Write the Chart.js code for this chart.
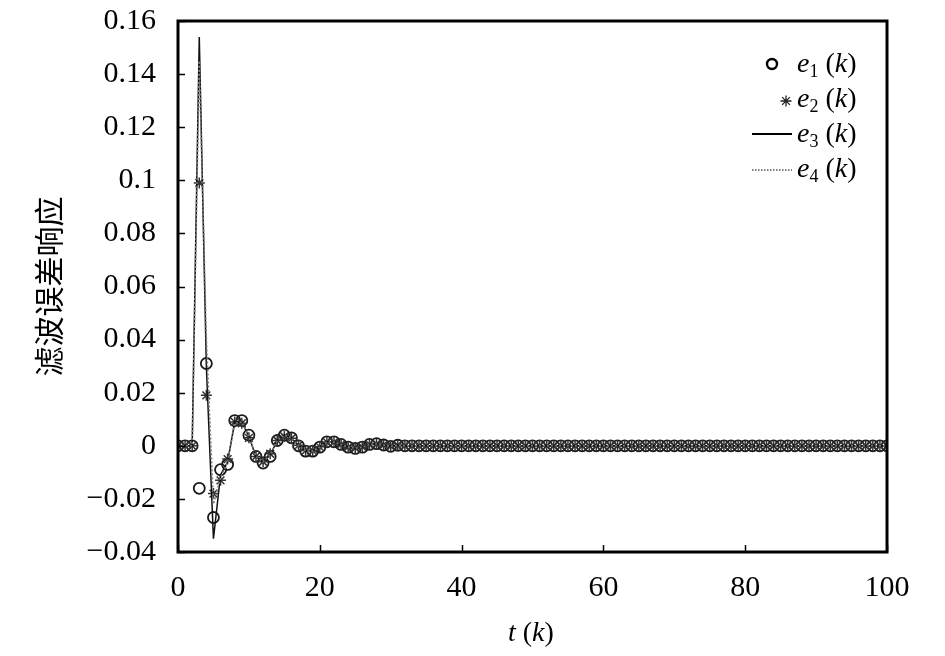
<!DOCTYPE html>
<html><head><meta charset="utf-8">
<script src="https://cdn.jsdelivr.net/npm/chart.js@4/dist/chart.umd.min.js"></script>
<style>
html,body{margin:0;padding:0;background:#fff;}
#wrap{position:relative;width:945px;height:656px;overflow:hidden;}
canvas{position:absolute;left:0;top:0;}
.leg{position:absolute;font-family:"Liberation Serif","Times New Roman",serif;font-size:28px;color:#000;line-height:28px;white-space:nowrap;}
.leg sub{font-size:18px;font-style:normal;vertical-align:-5px;line-height:0;}
</style></head>
<body><div id="wrap"><canvas id="c" width="945" height="656"></canvas>
<div class="leg" style="left:797px;top:49px"><i>e</i><sub>1</sub> (<i>k</i>)</div>
<div class="leg" style="left:797px;top:84px"><i>e</i><sub>2</sub> (<i>k</i>)</div>
<div class="leg" style="left:797px;top:119px"><i>e</i><sub>3</sub> (<i>k</i>)</div>
<div class="leg" style="left:797px;top:154px"><i>e</i><sub>4</sub> (<i>k</i>)</div>
<div class="leg" style="left:508px;top:618px"><i>t</i> (<i>k</i>)</div>
</div>
<script>
// k = 0..100
const kValues = Array.from({length: 101}, (_, i) => i);
const e1 = [0,0,0,-0.016,0.031,-0.027,-0.009,-0.007,0.0095,0.0095,0.004,-0.004,-0.0065,-0.004,0.002,0.004,0.003,0,-0.002,-0.002,-0.0005,0.0015,0.0015,0.0005,-0.0005,-0.001,-0.0005,0.0005,0.0008,0.0003,-0.0002,0.0002,0,0,0,0,0,0,0,0,0,0,0,0,0,0,0,0,0,0,0,0,0,0,0,0,0,0,0,0,0,0,0,0,0,0,0,0,0,0,0,0,0,0,0,0,0,0,0,0,0,0,0,0,0,0,0,0,0,0,0,0,0,0,0,0,0,0,0,0,0];
const e2 = [0,0,0,0.099,0.019,-0.018,-0.013,-0.005,0.009,0.0085,0.003,-0.004,-0.006,-0.003,0.002,0.0035,0.0028,0.0002,-0.0018,-0.0018,-0.0004,0.0014,0.0014,0.0005,-0.0005,-0.0009,-0.0004,0.0005,0.0007,0.0003,-0.0002,0.0002,0,0,0,0,0,0,0,0,0,0,0,0,0,0,0,0,0,0,0,0,0,0,0,0,0,0,0,0,0,0,0,0,0,0,0,0,0,0,0,0,0,0,0,0,0,0,0,0,0,0,0,0,0,0,0,0,0,0,0,0,0,0,0,0,0,0,0,0,0];
const e3 = [0,0,0,0.154,0.03,-0.035,-0.011,-0.006,0.009,0.009,0.0035,-0.004,-0.006,-0.0035,0.002,0.004,0.003,0.0001,-0.002,-0.002,-0.0005,0.0015,0.0015,0.0005,-0.0005,-0.001,-0.0005,0.0005,0.0008,0.0003,-0.0002,0.0002,0,0,0,0,0,0,0,0,0,0,0,0,0,0,0,0,0,0,0,0,0,0,0,0,0,0,0,0,0,0,0,0,0,0,0,0,0,0,0,0,0,0,0,0,0,0,0,0,0,0,0,0,0,0,0,0,0,0,0,0,0,0,0,0,0,0,0,0,0];
const e4 = [0,0,0,0.145,0.04,-0.022,-0.012,-0.006,0.0085,0.009,0.0035,-0.004,-0.006,-0.0035,0.002,0.004,0.003,0.0001,-0.002,-0.002,-0.0005,0.0014,0.0014,0.0005,-0.0005,-0.0009,-0.0005,0.0005,0.0007,0.0003,-0.0002,0.0002,0,0,0,0,0,0,0,0,0,0,0,0,0,0,0,0,0,0,0,0,0,0,0,0,0,0,0,0,0,0,0,0,0,0,0,0,0,0,0,0,0,0,0,0,0,0,0,0,0,0,0,0,0,0,0,0,0,0,0,0,0,0,0,0,0,0,0,0,0];
const xTicks = [0,20,40,60,80,100];
const yTicks = [-0.04,-0.02,0,0.02,0.04,0.06,0.08,0.1,0.12,0.14,0.16];

const pts = arr => kValues.map((k, i) => ({x: k, y: arr[i]}));
const serif = '"Liberation Serif","Times New Roman",serif';

const framePlugin = {
  id: 'frame',
  afterDraw(chart) {
    const {ctx, chartArea: a, scales: {x, y}} = chart;
    ctx.save();
    ctx.strokeStyle = '#000';
    ctx.lineWidth = 1.5;
    yTicks.forEach(v => {
      const py = Math.round(y.getPixelForValue(v)) + 0.5;
      ctx.beginPath(); ctx.moveTo(a.left, py); ctx.lineTo(a.left + 7, py); ctx.stroke();
    });
    xTicks.forEach(v => {
      const px = Math.round(x.getPixelForValue(v)) + 0.5;
      ctx.beginPath(); ctx.moveTo(px, a.bottom); ctx.lineTo(px, a.bottom - 7); ctx.stroke();
    });
    ctx.lineWidth = 3;
    ctx.strokeRect(a.left, a.top, a.right - a.left, a.bottom - a.top);
    // legend symbols
    const Ch = Chart.helpers;
    ctx.fillStyle = 'rgba(0,0,0,0)';
    ctx.lineWidth = 2.4; ctx.strokeStyle = '#000';
    Ch.drawPoint(ctx, {pointStyle: 'circle', radius: 5, borderWidth: 2.4}, 772, 64);
    ctx.lineWidth = 1.3; ctx.strokeStyle = '#222';
    Ch.drawPoint(ctx, {pointStyle: 'star', radius: 5.5, borderWidth: 1.3}, 786, 101);
    ctx.lineWidth = 1.8; ctx.strokeStyle = '#000';
    ctx.beginPath(); ctx.moveTo(752, 134); ctx.lineTo(792, 134); ctx.stroke();
    ctx.lineWidth = 1.5; ctx.strokeStyle = '#555'; ctx.setLineDash([1.5, 1.5]);
    ctx.beginPath(); ctx.moveTo(752, 170); ctx.lineTo(792, 170); ctx.stroke();
    ctx.restore();
  }
};

new Chart(document.getElementById('c'), {
  type: 'line',
  data: {
    datasets: [
      {label: 'e4', data: pts(e4), borderColor: '#7a7a7a', borderWidth: 1.6, borderDash: [2, 2], pointRadius: 0, fill: false, tension: 0},
      {label: 'e3', data: pts(e3), borderColor: '#111', borderWidth: 1.5, pointRadius: 0, fill: false, tension: 0},
      {label: 'e2', data: pts(e2), showLine: false, pointStyle: 'star', pointRadius: 5.5, pointBorderWidth: 1.5, pointBorderColor: '#333', pointBackgroundColor: '#333'},
      {label: 'e1', data: pts(e1), showLine: false, pointStyle: 'circle', pointRadius: 5.5, pointBorderWidth: 1.8, pointBorderColor: '#1a1a1a', pointBackgroundColor: 'rgba(0,0,0,0)'}
    ]
  },
  options: {
    responsive: false,
    animation: false,
    devicePixelRatio: 1,
    layout: {padding: {left: 0, top: 21, right: 58, bottom: 0}},
    plugins: {legend: {display: false}, tooltip: {enabled: false}},
    scales: {
      x: {
        type: 'linear', min: 0, max: 100,
        afterFit(s) { s.height = 104; s.paddingLeft = 0; s.paddingRight = 0; },
        afterBuildTicks(s) { s.ticks = xTicks.map(v => ({value: v})); },
        grid: {display: false, drawTicks: false},
        border: {display: false},
        ticks: {color: '#000', font: {family: serif, size: 30}, padding: 18, maxRotation: 0, autoSkip: false}
      },
      y: {
        type: 'linear', min: -0.04, max: 0.16,
        afterFit(s) { s.width = 178; s.paddingTop = 0; s.paddingBottom = 0; },
        afterBuildTicks(s) { s.ticks = yTicks.map(v => ({value: v})); },
        grid: {display: false, drawTicks: false},
        border: {display: false},
        ticks: {
          color: '#000', font: {family: serif, size: 30}, padding: 22, autoSkip: false,
          callback: v => { const r = Math.round(v * 100) / 100; return r < 0 ? '\u2212' + Math.abs(r) : String(r); }
        },
        title: {display: true, text: '滤波误差响应', color: '#000', font: {family: '"Noto Sans CJK SC"', size: 30, weight: 'normal'}, padding: {top: 31, bottom: 0}}
      }
    }
  },
  plugins: [framePlugin]
});
</script>
</body></html>
